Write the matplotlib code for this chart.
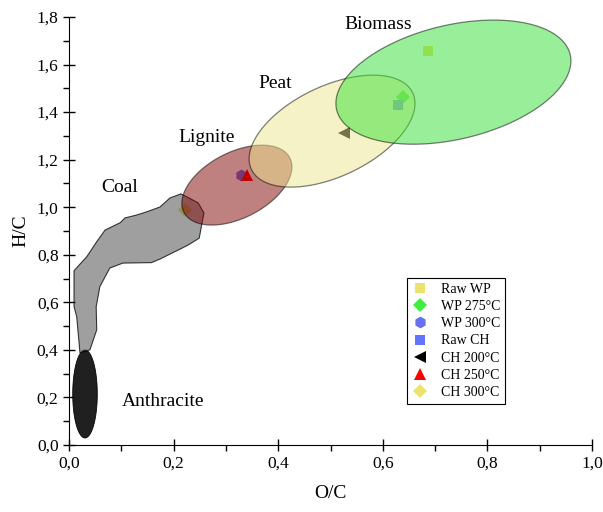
import numpy as np
import matplotlib
matplotlib.use("Agg")
import matplotlib.pyplot as plt
from matplotlib.patches import Polygon
from matplotlib.ticker import MultipleLocator, FuncFormatter

plt.rcParams['font.family'] = ['Liberation Serif', 'DejaVu Serif']

# ---- sample points (O/C, H/C) ----
labels = ["Raw WP", "WP 275°C", "WP 300°C", "Raw CH", "CH 200°C", "CH 250°C", "CH 300°C"]
oc = [0.686, 0.639, 0.329, 0.629, 0.526, 0.340, 0.222]
hc = [1.657, 1.463, 1.135, 1.430, 1.312, 1.135, 0.988]
markers = ["s", "D", "h", "s", "<", "^", "D"]
colors = ["#ebe36e", "#3ef03e", "#6670f0", "#6274ff", "#000000", "#ff0000", "#ebe36e"]
msizes = [7.5, 7, 8.5, 7.5, 8.5, 8.5, 7]

# ---- regions: ellipses (center x, center y, semi-major, semi-minor in O/C units, angle deg) ----
ell_names = ["Anthracite", "Lignite", "Peat", "Biomass"]
ell_cx = [0.0306, 0.321, 0.503, 0.735]
ell_cy = [0.2145, 1.093, 1.320, 1.526]
ell_a = [0.0841, 0.1138, 0.1707, 0.2294]
ell_b = [0.0235, 0.0629, 0.0864, 0.1092]
ell_ang = [90.0, 27.2, 25.4, 13.3]
ell_fc = ["#141414", "#800202", "#efe791", "#35e135"]
ell_alpha = [0.95, 0.5, 0.5, 0.5]

# coal polygon
coal_x = [0.0096, 0.0096, 0.0147, 0.021, 0.040, 0.053, 0.052, 0.059, 0.078, 0.103, 0.158, 0.174,
          0.228, 0.249, 0.258, 0.247, 0.226, 0.214, 0.193, 0.174, 0.149, 0.129, 0.107, 0.098,
          0.069, 0.053, 0.034]
coal_y = [0.733, 0.582, 0.540, 0.387, 0.400, 0.484, 0.582, 0.666, 0.744, 0.765, 0.767, 0.782,
          0.841, 0.870, 0.976, 1.018, 1.043, 1.056, 1.039, 1.001, 0.981, 0.967, 0.955, 0.935,
          0.904, 0.855, 0.792]

region_text = ["Biomass", "Peat", "Lignite", "Coal", "Anthracite"]
text_x = [0.591, 0.394, 0.264, 0.096, 0.180]
text_y = [1.770, 1.522, 1.295, 1.085, 0.181]

xlim = (0.0, 1.0)
ylim = (0.0, 1.8)

fig = plt.figure(figsize=(6.03, 5.12), dpi=100)
ax = fig.add_axes([69/603, 67/512, 523/603, 428/512])
ax.set_xlim(*xlim)
ax.set_ylim(*ylim)

# display aspect factor: pixels per x unit / pixels per y unit
pos = ax.get_position()
px_x = pos.width * fig.get_figwidth() / (xlim[1] - xlim[0])
px_y = pos.height * fig.get_figheight() / (ylim[1] - ylim[0])
k = px_x / px_y

# markers first (beneath translucent regions)
for lab, x, y, m, c, s in zip(labels, oc, hc, markers, colors, msizes):
    ax.plot([x], [y], linestyle="none", marker=m, color=c, markersize=s,
            markeredgewidth=0, label=lab, zorder=1)

def ellipse_pts(cx, cy, a, b, ang):
    t = np.linspace(0, 2*np.pi, 200)
    th = np.deg2rad(ang)
    u = a*np.cos(t)*np.cos(th) - b*np.sin(t)*np.sin(th)
    v = a*np.cos(t)*np.sin(th) + b*np.sin(t)*np.cos(th)
    return np.column_stack([cx + u, cy + v*k])

# anthracite
ax.add_patch(Polygon(ellipse_pts(ell_cx[0], ell_cy[0], ell_a[0], ell_b[0], ell_ang[0]),
                     closed=True, facecolor=ell_fc[0], alpha=ell_alpha[0],
                     edgecolor="#000000", linewidth=0.6, zorder=2))
# coal
ax.add_patch(Polygon(np.column_stack([coal_x, coal_y]), closed=True,
                     facecolor=(0.25, 0.25, 0.25, 0.5), edgecolor=(0, 0, 0, 0.75),
                     linewidth=0.8, zorder=3))
for i in range(1, 4):
    ax.add_patch(Polygon(ellipse_pts(ell_cx[i], ell_cy[i], ell_a[i], ell_b[i], ell_ang[i]),
                         closed=True, facecolor=ell_fc[i], alpha=ell_alpha[i],
                         edgecolor="#000000", linewidth=0.9, zorder=4 + i))

for t, x, y in zip(region_text, text_x, text_y):
    ax.text(x, y, t, ha="center", va="center", fontsize=14, zorder=10)

ax.spines["top"].set_visible(False)
ax.spines["right"].set_visible(False)
ax.xaxis.set_major_locator(MultipleLocator(0.2))
ax.xaxis.set_minor_locator(MultipleLocator(0.1))
ax.yaxis.set_major_locator(MultipleLocator(0.2))
ax.yaxis.set_minor_locator(MultipleLocator(0.1))
fmt = FuncFormatter(lambda v, p: f"{v:.1f}".replace(".", ","))
ax.xaxis.set_major_formatter(fmt)
ax.yaxis.set_major_formatter(fmt)
ax.tick_params(which="major", direction="inout", length=8, width=1, labelsize=12.5)
ax.tick_params(which="minor", direction="out", length=4, width=1)
ax.set_xlabel("O/C", fontsize=14, labelpad=10)
ax.set_ylabel("H/C", fontsize=14, labelpad=5)

leg = ax.legend(loc="upper left", bbox_to_anchor=(0.646, 0.390), fontsize=10,
                frameon=True, fancybox=False, edgecolor="black", framealpha=1,
                handlelength=1.2, handletextpad=0.9, labelspacing=0.3, borderpad=0.35,
                borderaxespad=0)
leg.get_frame().set_linewidth(0.8)
leg.set_zorder(20)

fig.savefig("out.png", dpi=100)
